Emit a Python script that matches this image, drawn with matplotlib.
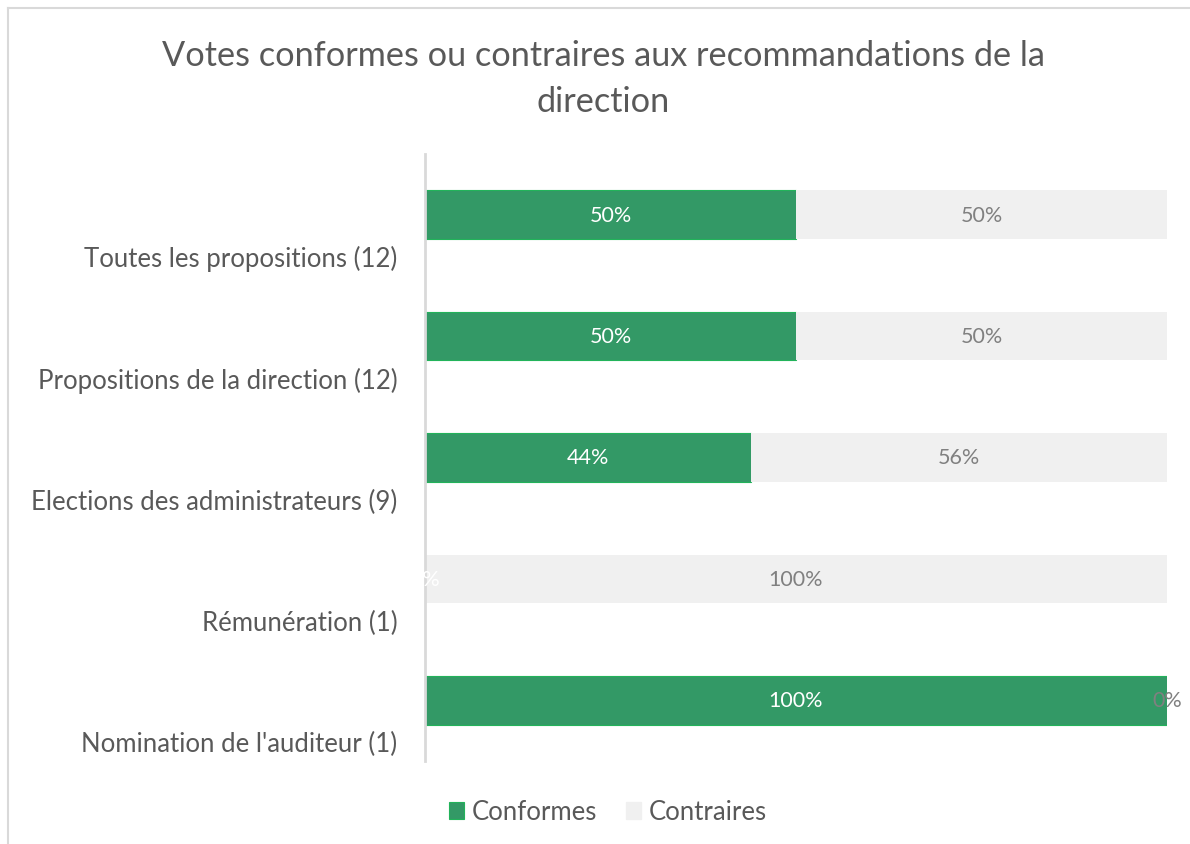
import matplotlib
matplotlib.use("Agg")
import matplotlib.pyplot as plt
from matplotlib.transforms import ScaledTranslation
from matplotlib.lines import Line2D
from matplotlib.patches import Patch

categories = ["Toutes les propositions (12)", "Propositions de la direction (12)",
              "Elections des administrateurs (9)", "Rémunération (1)",
              "Nomination de l'auditeur (1)"]
conformes = [50, 50, 44, 0, 100]
contraires = [50, 50, 56, 100, 0]
series_names = ["Conformes", "Contraires"]
title = "Votes conformes ou contraires aux recommandations de la\ndirection"

plt.rcParams['font.family'] = ['Lato', 'DejaVu Sans']
W, H = 1190, 845
fig = plt.figure(figsize=(W/100, H/100), dpi=100)
ax = fig.add_axes([425/W, 1-762/H, (1167-425)/W, (762-155)/H])

green = '#339966'
light = '#f0f0f0'
y = list(range(len(categories)))
b1 = ax.barh(y, conformes, height=0.4, color=green, edgecolor='#22b35a', linewidth=0.8)
b2 = ax.barh(y, contraires, left=conformes, height=0.4, color=light, edgecolor=light, linewidth=0)
ax.bar_label(b1, labels=[f"{v}%" for v in conformes], label_type='center', color='white', fontsize=15.5)
ax.bar_label(b2, labels=[f"{v}%" for v in contraires], label_type='center', color='#808080', fontsize=15.5)

ax.set_xlim(0, 100)
ax.set_ylim(len(categories)-0.5, -0.5)
ax.set_xticks([])
ax.set_yticks(y)
ax.set_yticklabels(categories, fontsize=18.5, color='#595959')
ax.tick_params(axis='y', length=0, pad=20)
off = ScaledTranslation(0, -0.41, fig.dpi_scale_trans)
for lab in ax.get_yticklabels():
    lab.set_transform(lab.get_transform() + off)
for s in ['top', 'right', 'bottom']:
    ax.spines[s].set_visible(False)
ax.spines['left'].set_color('#d9d9d9')
ax.spines['left'].set_linewidth(2)

fig.text(603/W, 1-79/H, title, ha='center', va='center', fontsize=24.7, color='#595959', linespacing=1.5)

handles = [Patch(facecolor=green, edgecolor='#22b35a', linewidth=0.8), Patch(facecolor=light, edgecolor=light)]
fig.legend(handles, series_names, loc='center', bbox_to_anchor=(608/W, 1-813/H), ncol=2, frameon=False,
           fontsize=18.5, labelcolor='#595959', handlelength=0.6, handleheight=0.6, columnspacing=1.1, handletextpad=0.3)

fig.add_artist(Line2D([8/W, 8/W], [0, 1-9/H], transform=fig.transFigure, color='#d9d9d9', linewidth=1.5))
fig.add_artist(Line2D([8/W, 1], [1-9/H, 1-9/H], transform=fig.transFigure, color='#d9d9d9', linewidth=1.5))

fig.savefig("out.png", dpi=100)
